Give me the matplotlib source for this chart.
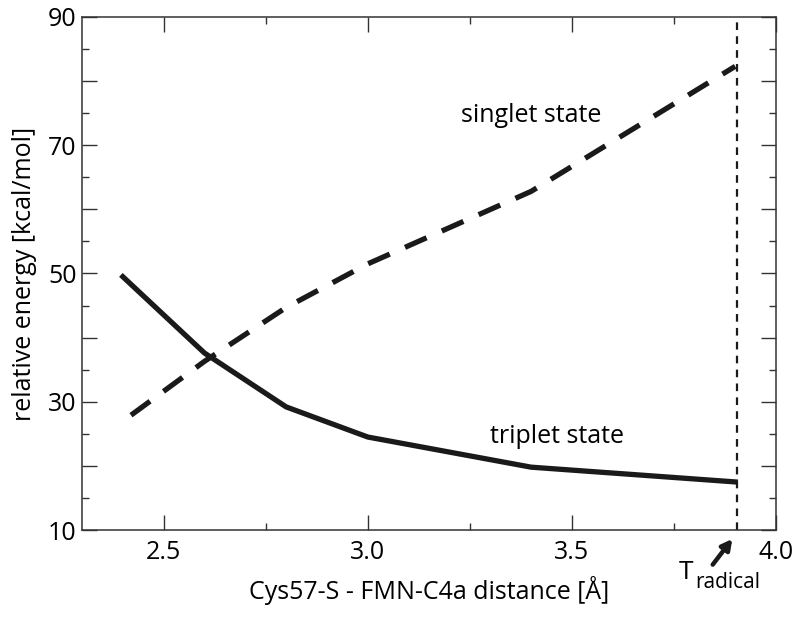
import matplotlib.pyplot as plt
import numpy as np

plt.rcParams['font.family'] = ['Open Sans', 'DejaVu Sans']
plt.rcParams['lines.scale_dashes'] = False

# Cys57-S - FMN-C4a distance (Angstrom) and relative energies (kcal/mol)
triplet_x = [2.40, 2.60, 2.80, 3.00, 3.40, 3.90]
triplet_y = [49.5, 37.6, 29.2, 24.5, 19.8, 17.5]
singlet_x = [2.42, 2.60, 2.80, 3.00, 3.40, 3.90]
singlet_y = [27.9, 36.3, 44.7, 51.5, 62.8, 82.3]
t_radical = 3.905

xticks = [2.5, 3.0, 3.5, 4.0]
xminor = [2.75, 3.25, 3.75]
yticks = [10, 20, 30, 40, 50, 60, 70, 80, 90]
ytick_labels = ['10', '', '30', '', '50', '', '70', '', '90']
yminor = [15, 25, 35, 45, 55, 65, 75, 85]

fig, ax = plt.subplots(figsize=(8, 6.22), dpi=100)
fig.subplots_adjust(left=0.1025, right=0.97, top=0.9727, bottom=0.1479)

ax.plot(triplet_x, triplet_y, color='#1a1a1a', lw=3.8, solid_joinstyle='round')
ax.plot(singlet_x, singlet_y, color='#1a1a1a', lw=3.8, dashes=(17, 12))
ax.axvline(t_radical, color='#1a1a1a', lw=1.6, dashes=(5.5, 4.5))

ax.text(3.4, 73.6, 'singlet state', fontsize=18, ha='center', va='baseline')
ax.text(3.464, 23.5, 'triplet state', fontsize=18, ha='center', va='baseline')

ax.annotate('', xy=(3.893, 8.6), xytext=(3.845, 4.6), annotation_clip=False,
            arrowprops=dict(arrowstyle='-|>,head_length=0.6,head_width=0.32',
                            lw=3.2, color='#1a1a1a', shrinkA=0, shrinkB=0))
ax.text(3.762, 2.3, 'T', fontsize=19, ha='left', va='baseline', clip_on=False)
ax.text(3.801, 1.0, 'radical', fontsize=15, ha='left', va='baseline', clip_on=False)

ax.set_xlim(2.3, 4.0)
ax.set_ylim(10, 90)
ax.set_xticks(xticks)
ax.set_xticklabels([f'{v:.1f}' for v in xticks])
ax.set_xticks(xminor, minor=True)
ax.set_yticks(yticks)
ax.set_yticklabels(ytick_labels)
ax.set_yticks(yminor, minor=True)

ax.tick_params(which='both', direction='in', top=True, right=True,
               width=1, color='#333333', labelsize=18)
ax.tick_params(which='major', length=10.5, pad=7)
ax.tick_params(which='minor', length=5.2)
ax.tick_params(axis='y', which='major', pad=4)
for s in ax.spines.values():
    s.set_linewidth(1.1)
    s.set_color('#333333')

ax.set_xlabel('Cys57-S - FMN-C4a distance [Å]', fontsize=18, labelpad=8)
ax.set_ylabel('relative energy [kcal/mol]', fontsize=18, labelpad=8)

fig.savefig('out.png', dpi=100)
